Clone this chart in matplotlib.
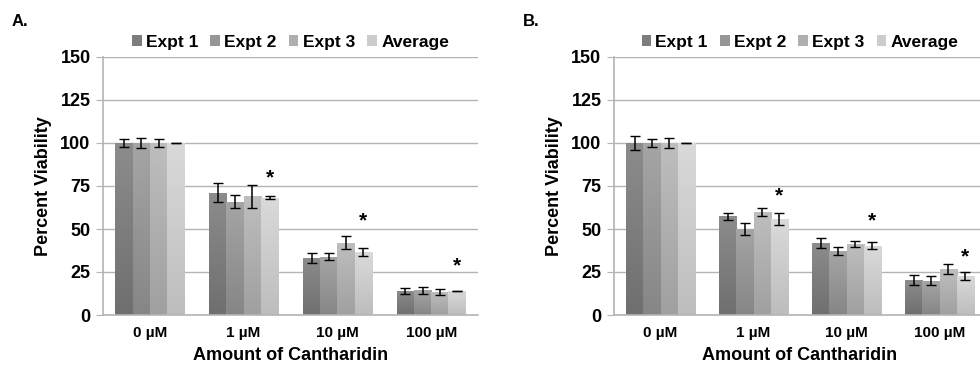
import numpy as np
import matplotlib
matplotlib.use("Agg")
import matplotlib.pyplot as plt
from matplotlib.colors import LinearSegmentedColormap
from matplotlib.patches import Patch

plt.rcParams['font.family'] = ['Liberation Sans', 'DejaVu Sans']
plt.rcParams['font.weight'] = 'bold'

concs = ['0 µM', '1 µM', '10 µM', '100 µM']
series = ['Expt 1', 'Expt 2', 'Expt 3', 'Average']

# panel A
a_vals = {
    'Expt 1': [100, 71.2, 33.4, 14.0],
    'Expt 2': [100, 65.8, 34.0, 14.4],
    'Expt 3': [100, 68.9, 42.1, 13.4],
    'Average': [100, 68.3, 36.6, 14.0],
}
a_err = {
    'Expt 1': [2.5, 5.3, 2.9, 1.9],
    'Expt 2': [3.0, 3.8, 2.0, 2.0],
    'Expt 3': [2.5, 6.5, 4.0, 1.7],
    'Average': [0.2, 1.0, 2.5, 0.2],
}
a_stars = [None, 80, 55, 28.5]

# panel B
b_vals = {
    'Expt 1': [100, 57.3, 41.7, 20.5],
    'Expt 2': [100, 50.1, 37.0, 19.9],
    'Expt 3': [100, 60.0, 41.3, 26.7],
    'Average': [100, 55.9, 40.4, 22.8],
}
b_err = {
    'Expt 1': [4.0, 1.8, 2.8, 3.0],
    'Expt 2': [2.5, 3.6, 2.4, 2.5],
    'Expt 3': [3.0, 2.5, 2.0, 3.0],
    'Average': [0.2, 3.4, 2.0, 2.2],
}
b_stars = [None, 69, 55, 33.5]

# gradient (bottom, top) per series
grad = {
    'Expt 1': ('#6f6f6f', '#8c8c8c'),
    'Expt 2': ('#868686', '#a5a5a5'),
    'Expt 3': ('#a0a0a0', '#bebebe'),
    'Average': ('#bdbdbd', '#dadada'),
}
mid = {'Expt 1': '#7d7d7d', 'Expt 2': '#969696', 'Expt 3': '#afafaf', 'Average': '#cccccc'}

grid_c = '#b4b4b4'
bw = 0.184


def draw_panel(ax, vals, errs, stars):
    x = np.arange(len(concs))
    grad_img = np.linspace(0, 1, 64).reshape(-1, 1)
    for i, s in enumerate(series):
        xs = x + (i - 1.5) * bw
        bars = ax.bar(xs, vals[s], bw, color='none', edgecolor='none', zorder=2)
        cmap = LinearSegmentedColormap.from_list(s, list(grad[s]))
        for b in bars:
            x0, y0 = b.get_x(), b.get_y()
            w, h = b.get_width(), b.get_height()
            im = ax.imshow(grad_img, cmap=cmap, origin='lower', aspect='auto',
                           extent=[x0, x0 + w, y0, y0 + h], zorder=2,
                           interpolation='bilinear')
            im.set_clip_path(b)
        ax.errorbar(xs, vals[s], yerr=errs[s], fmt='none', ecolor='black',
                    elinewidth=1.1, capsize=3.5, capthick=1.0, zorder=3)
    for j, sy in enumerate(stars):
        if sy is not None:
            ax.text(x[j] + 1.5 * bw, sy, '*', ha='center', va='center',
                    fontsize=15, fontweight='bold', zorder=4)

    ax.set_xlim(-0.5, len(concs) - 0.5)
    ax.set_ylim(0, 150)
    ax.set_yticks([0, 25, 50, 75, 100, 125, 150])
    ax.yaxis.grid(True, color=grid_c, lw=1.0, zorder=0)
    ax.set_axisbelow(True)
    for sp in ['top', 'right']:
        ax.spines[sp].set_visible(False)
    ax.spines['left'].set_color(grid_c)
    ax.spines['bottom'].set_color(grid_c)
    ax.spines['left'].set_linewidth(1.2)
    ax.spines['bottom'].set_linewidth(1.2)
    ax.tick_params(axis='y', length=5, color=grid_c, labelsize=13, pad=4)
    ax.tick_params(axis='x', length=0, labelsize=11, pad=8)
    ax.set_xticks(x)
    ax.set_xticklabels(concs, fontweight='bold')
    for lab in ax.get_yticklabels():
        lab.set_fontweight('bold')
    ax.set_ylabel('Percent Viability', fontsize=13, fontweight='bold', labelpad=6)
    ax.set_xlabel('Amount of Cantharidin', fontsize=13, fontweight='bold', labelpad=5)

    handles = [Patch(facecolor=mid[s], edgecolor='none') for s in series]
    ax.legend(handles, series, loc='lower center', bbox_to_anchor=(0.5, 0.995),
              ncol=4, frameon=False, handlelength=0.55,
              handleheight=0.55, handletextpad=0.25, columnspacing=0.7,
              borderaxespad=0.1, prop={'weight': 'bold', 'size': 12.5})


fig = plt.figure(figsize=(9.8, 3.71), dpi=100)
ax_a = fig.add_axes([103 / 980, 56 / 371, 375 / 980, 258 / 371])
ax_b = fig.add_axes([614 / 980, 56 / 371, 372 / 980, 258 / 371])

draw_panel(ax_a, a_vals, a_err, a_stars)
draw_panel(ax_b, b_vals, b_err, b_stars)

fig.text(12 / 980, 1 - 22 / 371, 'A.', fontsize=12, fontweight='bold', va='center')
fig.text(523 / 980, 1 - 22 / 371, 'B.', fontsize=12, fontweight='bold', va='center')

fig.savefig('out.png', dpi=100)
